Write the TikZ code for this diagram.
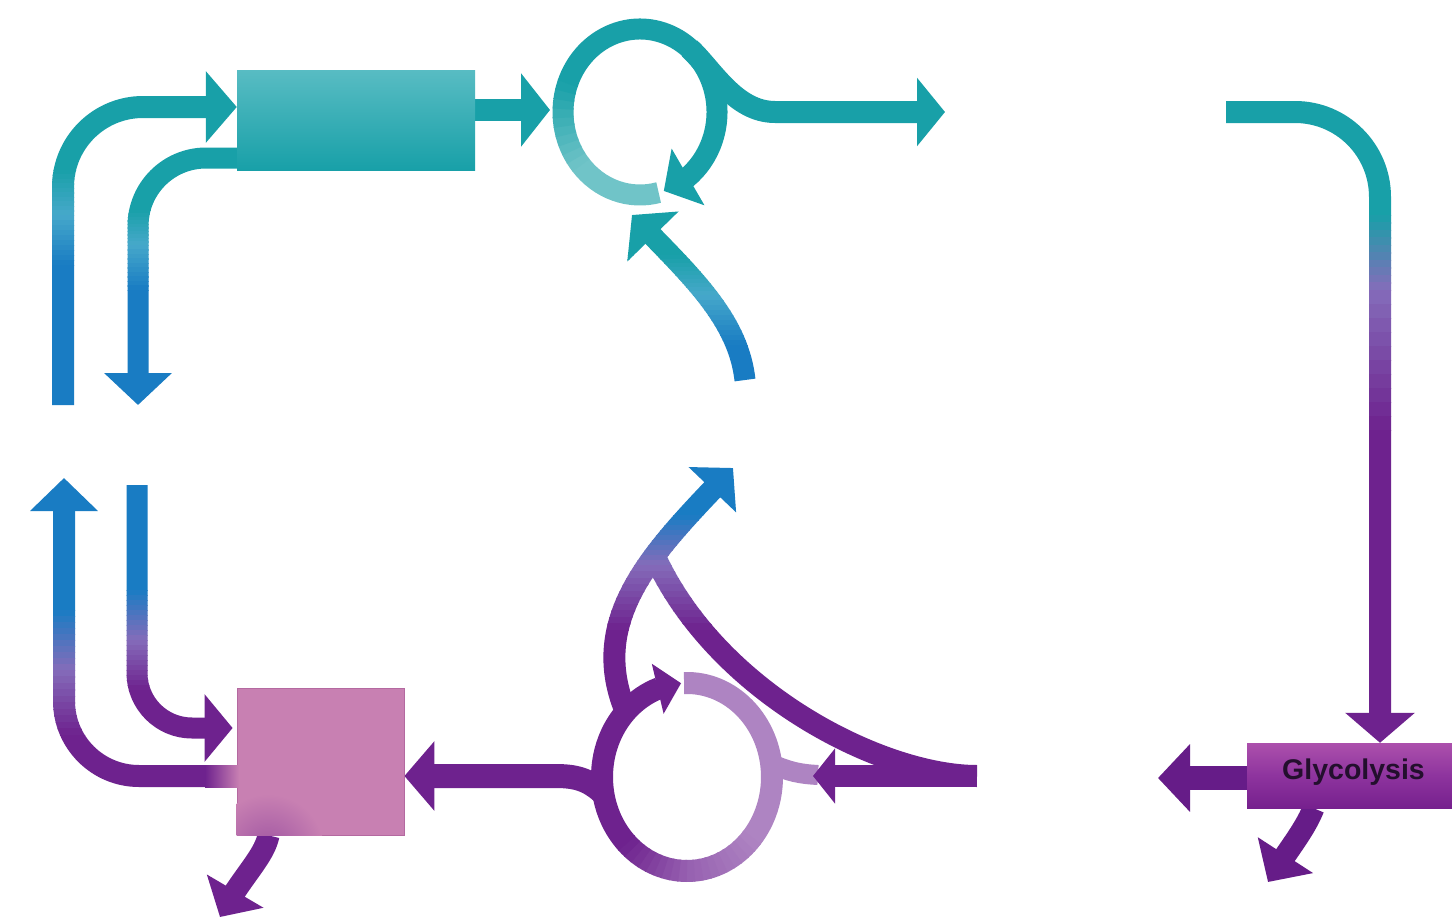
\documentclass[tikz,border=0pt]{standalone}
\usepackage{fontspec}
\setmainfont{Liberation Sans}
\usetikzlibrary{arrows.meta,bending}
\pgfdeclarelayer{back}
\pgfdeclarelayer{front}
\pgfsetlayers{back,main,front}

\definecolor{teal1}{RGB}{24,160,168}
\definecolor{tealTop}{RGB}{88,188,195}
\definecolor{tealL}{RGB}{112,196,200}
\definecolor{tealM}{RGB}{70,168,202}
\definecolor{blue1}{RGB}{25,124,195}
\definecolor{purp}{RGB}{110,34,142}
\definecolor{purpD}{RGB}{102,28,136}
\definecolor{purpM}{RGB}{132,108,186}
\definecolor{lp1}{RGB}{174,132,194}
\definecolor{lp2}{RGB}{150,96,176}
\definecolor{pinkbox}{RGB}{200,128,178}
\definecolor{pinkE}{RGB}{180,105,160}
\definecolor{glyT}{RGB}{172,80,172}
\definecolor{glyM}{RGB}{142,52,158}
\definecolor{glyB}{RGB}{118,32,142}
\definecolor{glyText}{RGB}{35,15,45}

\tikzset{
  arr/.style 2 args={-{Triangle[width=#1,length=#2,flex]}},
}

% vertical colour gradient along a stroked path: gA above y0, gA->gM on [y0,y1], gM->gB on [y1,y2], gB below y2
\newcommand\vgrad[5]{%
  \begin{scope}\clip (-50,-50) rectangle (1550,#3+0.6);\draw[#1,draw=gA] #2;\end{scope}%
  \foreach \k in {0,...,9}{%
    \pgfmathsetmacro\ya{#3+(#4-#3)*\k/10}%
    \pgfmathsetmacro\yb{#3+(#4-#3)*(\k+1)/10+0.6}%
    \pgfmathtruncatemacro\pc{100-100*(\k+0.5)/10}%
    \begin{scope}\clip (-50,\ya) rectangle (1550,\yb);\draw[#1,draw=gA!\pc!gM] #2;\end{scope}%
  }%
  \foreach \k in {0,...,9}{%
    \pgfmathsetmacro\ya{#4+(#5-#4)*\k/10}%
    \pgfmathsetmacro\yb{#4+(#5-#4)*(\k+1)/10+0.6}%
    \pgfmathtruncatemacro\pc{100-100*(\k+0.5)/10}%
    \begin{scope}\clip (-50,\ya) rectangle (1550,\yb);\draw[#1,draw=gM!\pc!gB] #2;\end{scope}%
  }%
  \begin{scope}\clip (-50,#5) rectangle (1550,1000);\draw[#1,draw=gB] #2;\end{scope}%
}

\begin{document}
\begin{tikzpicture}[x=1pt,y=-1pt]
\begin{pgfonlayer}{back}
\fill[white] (0,0) rectangle (1452,918);
\end{pgfonlayer}
\useasboundingbox (0,0) rectangle (1452,918);

% ---------------- nodes ----------------
\begin{pgfonlayer}{front}
\node[inner sep=0pt, minimum width=238pt, minimum height=100pt,
      top color=tealTop, bottom color=teal1] (ptop) at (356,120) {};
\node[inner sep=0pt, draw=pinkE, line width=0.8pt, fill=pinkbox,
      minimum width=167pt, minimum height=147pt] (pbox) at (320.5,761.5) {};
\node[inner sep=0pt, minimum width=205pt, minimum height=65pt,
      top color=glyT, bottom color=glyB, middle color=glyM] (gly) at (1349.5,775.5) {};
\node[inner sep=0pt, font=\bfseries\fontsize{28.5}{30}\selectfont, text=glyText]
      (glytext) at (1353.5,772.5) {Glycolysis};
% soft blends where lines meet the pink box
\shade[left color=purp, right color=pinkbox] (205,765) rectangle (239,787);
\begin{scope}
  \clip (pbox.south west) rectangle (pbox.north east);
  \shade[inner color=purp!45!pinkbox, outer color=pinkbox] (268,850) circle (56);
\end{scope}
\end{pgfonlayer}

% ---------------- free ends ----------------
\coordinate (lUp) at (63,405);
\coordinate (lDown) at (138,405);
\coordinate (cTopIn) at (550,110);
\coordinate (ctop) at (640,112);
\coordinate (tTopR) at (945,112);
\coordinate (upS) at (745,380);
\coordinate (upT) at (632,215);
\coordinate (bUp) at (64,478);
\coordinate (bDown) at (137,485);
\coordinate (dlT) at (220,917);
\coordinate (cbot) at (687,777);
\coordinate (rinE) at (977,776);
\coordinate (rinT) at (813,776);
\coordinate (finE) at (652,550);
\coordinate (brS) at (626,712);
\coordinate (brT) at (733,468);
\coordinate (rTop) at (1226,112);
\coordinate (gL) at (1158,778);
\coordinate (gDL) at (1268,882);

% ---------------- top left ----------------
\colorlet{gA}{teal1}\colorlet{gM}{tealM}\colorlet{gB}{blue1}
\vgrad{line width=22pt, rounded corners=80pt, arr={70pt}{31pt}}
      {(lUp) |- ([yshift=13pt]ptop.west)}{170}{215}{265}
\vgrad{line width=21pt, rounded corners=68pt, arr={66pt}{32pt}}
      {([yshift=-38pt]ptop.west) -| (lDown)}{210}{245}{290}

\draw[line width=22pt, teal1, arr={72pt}{29pt}] ([yshift=10pt]ptop.east) -- (cTopIn);

% ---------------- top circle ----------------
\draw[line width=22pt, teal1, arr={67pt}{28pt}]
  (ctop) ++(-50:77 and 83) .. controls (712,69) and (735,112) .. (775,112) -- (tTopR);
\draw[line width=21pt, tealL] (ctop) ++(76:77 and 83)
  arc[start angle=76, end angle=141, x radius=77, y radius=83];
\foreach \a [count=\n] in {140,146,...,194}{
  \pgfmathtruncatemacro\pc{100-(\n-0.5)*10}
  \draw[line width=21pt, tealL!\pc!teal1] (ctop) ++(\a:77 and 83)
    arc[start angle=\a, end angle=\a+7, x radius=77, y radius=83];
}
\draw[line width=21pt, teal1, arr={64pt}{28pt}] (ctop) ++(200:77 and 83)
  arc[start angle=200, end angle=432, x radius=77, y radius=83];

\colorlet{gA}{teal1}\colorlet{gM}{tealM}\colorlet{gB}{blue1}
\vgrad{line width=21pt, arr={70pt}{30pt}}
      {(upS) .. controls (738,318) and (690,275) .. (upT)}{255}{295}{345}

% ---------------- bottom left ----------------
\colorlet{gA}{blue1}\colorlet{gM}{purpM}\colorlet{gB}{purp}
\vgrad{line width=22pt, rounded corners=75pt, arr={66pt}{33pt}}
      {([yshift=-14.5pt]pbox.west) -| (bUp)}{610}{670}{735}
\vgrad{line width=21pt, rounded corners=55pt, arr={66pt}{28pt}}
      {(bDown) |- ([xshift=-4pt,yshift=33.5pt]pbox.west)}{590}{640}{690}

\draw[line width=22pt, purp, arr={64pt}{30pt}]
  ([xshift=-52pt]pbox.south) .. controls (264,858) and (240,878) .. (dlT);

% ---------------- bottom circle ----------------
\draw[line width=22pt, lp1] (cbot) ++(268:85 and 94)
  arc[start angle=268, end angle=401, x radius=85, y radius=94];
\foreach \a [count=\n] in {40,45,...,85}{
  \pgfmathtruncatemacro\pc{100-(\n-0.5)*10}
  \draw[line width=22pt, lp1!\pc!lp2] (cbot) ++(\a:85 and 94)
    arc[start angle=\a, end angle=\a+6, x radius=85, y radius=94];
}
\foreach \a [count=\n] in {90,95,...,130}{
  \pgfmathtruncatemacro\pc{100-(\n-0.5)*11}
  \draw[line width=22pt, lp2!\pc!purp] (cbot) ++(\a:85 and 94)
    arc[start angle=\a, end angle=\a+6, x radius=85, y radius=94];
}

% stub and incoming arrow on the right
\draw[line width=20pt, lp1] (cbot) ++(-8:85 and 94) .. controls (790,772) and (800,774) .. (818,775);
\draw[line width=22pt, purp, arr={54pt}{22pt}] (rinE) -- (rinT);

% fin + branch to the blue arrowhead
\colorlet{gA}{blue1}\colorlet{gM}{purpM}\colorlet{gB}{purp}
\vgrad{line width=22pt, arr={64pt}{30pt}}
      {(rinE) .. controls (880,776) and (712,690) .. (finE)
       (brS) .. controls (585,615) and (660,545) .. (brT)}{515}{565}{630}

% branch to pink box
\draw[line width=24pt, purp, arr={68pt}{30pt}]
  (cbot) ++(170:85 and 94) .. controls (588,779) and (575,776) .. (555,776)
  -- ([yshift=-14.5pt]pbox.east);

% dark arc with arrow
\draw[line width=22pt, purp, arr={50pt}{24pt}] (cbot) ++(135:85 and 94)
  arc[start angle=135, end angle=266, x radius=85, y radius=94];

% ---------------- right side / glycolysis ----------------
\colorlet{gA}{teal1}\colorlet{gM}{purpM}\colorlet{gB}{purp}
\vgrad{line width=22pt, rounded corners=85pt, arr={68pt}{30pt}}
      {(rTop) -| ([xshift=30.5pt]gly.north)}{215}{290}{430}

\draw[line width=24pt, purpD, arr={66pt}{32pt}] ([yshift=-2.5pt]gly.west) -- (gL);
\draw[line width=22pt, purpD, arr={64pt}{32pt}]
  ([xshift=-36pt]gly.south) .. controls (1304,832) and (1286,852) .. (gDL);

\end{tikzpicture}
\end{document}
